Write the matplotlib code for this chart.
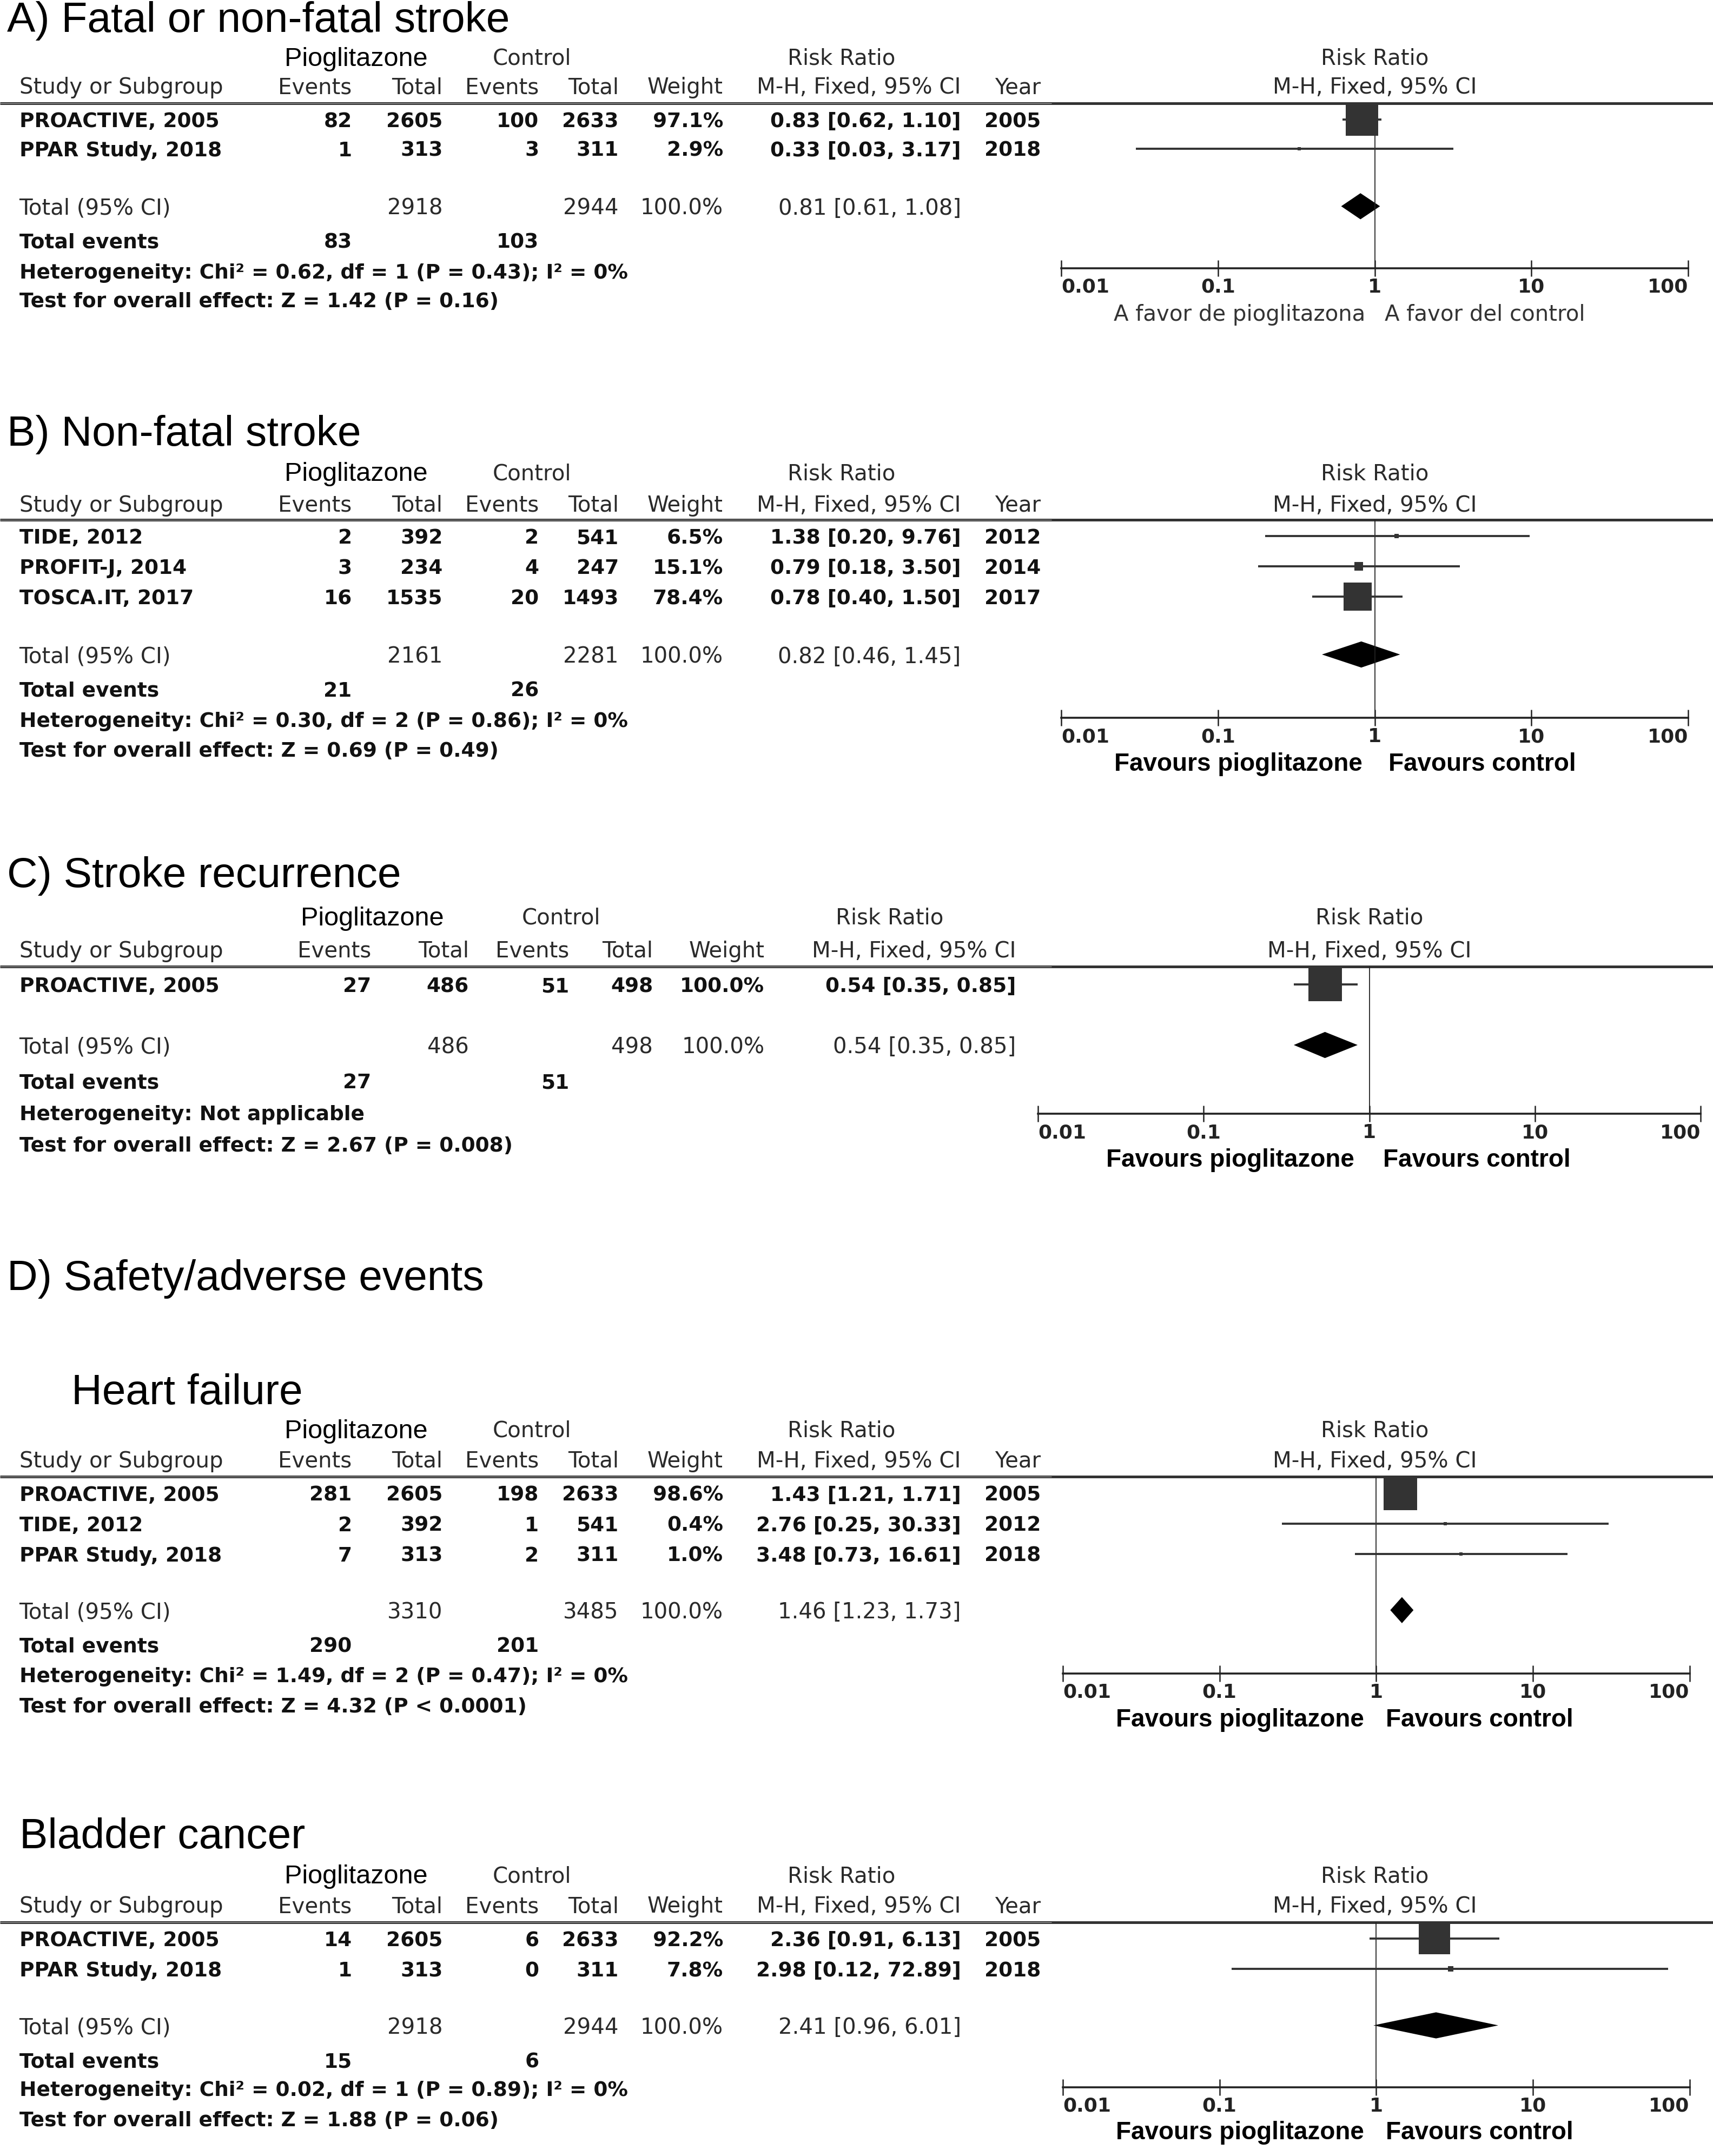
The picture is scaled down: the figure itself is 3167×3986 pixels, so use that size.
import matplotlib.pyplot as plt
from matplotlib.ticker import FixedLocator, NullLocator

# ---- values ----
# A) Fatal or non-fatal stroke
a_study = ["PROACTIVE, 2005", "PPAR Study, 2018"]
a_pio_ev = [82, 1]
a_pio_n = [2605, 313]
a_ctl_ev = [100, 3]
a_ctl_n = [2633, 311]
a_weight = [97.1, 2.9]
a_rr = [0.83, 0.33]
a_lo = [0.62, 0.03]
a_hi = [1.10, 3.17]
a_year = [2005, 2018]
a_tot_n = [2918, 2944]
a_tot_rr = [0.81, 0.61, 1.08]
a_tot_ev = [83, 103]
a_het = "Heterogeneity: Chi² = 0.62, df = 1 (P = 0.43); I² = 0%"
a_test = "Test for overall effect: Z = 1.42 (P = 0.16)"

# B) Non-fatal stroke
b_study = ["TIDE, 2012", "PROFIT-J, 2014", "TOSCA.IT, 2017"]
b_pio_ev = [2, 3, 16]
b_pio_n = [392, 234, 1535]
b_ctl_ev = [2, 4, 20]
b_ctl_n = [541, 247, 1493]
b_weight = [6.5, 15.1, 78.4]
b_rr = [1.38, 0.79, 0.78]
b_lo = [0.20, 0.18, 0.40]
b_hi = [9.76, 3.50, 1.50]
b_year = [2012, 2014, 2017]
b_tot_n = [2161, 2281]
b_tot_rr = [0.82, 0.46, 1.45]
b_tot_ev = [21, 26]
b_het = "Heterogeneity: Chi² = 0.30, df = 2 (P = 0.86); I² = 0%"
b_test = "Test for overall effect: Z = 0.69 (P = 0.49)"

# C) Stroke recurrence (no year column)
c_study = ["PROACTIVE, 2005"]
c_pio_ev = [27]
c_pio_n = [486]
c_ctl_ev = [51]
c_ctl_n = [498]
c_weight = [100.0]
c_rr = [0.54]
c_lo = [0.35]
c_hi = [0.85]
c_year = None
c_tot_n = [486, 498]
c_tot_rr = [0.54, 0.35, 0.85]
c_tot_ev = [27, 51]
c_het = "Heterogeneity: Not applicable"
c_test = "Test for overall effect: Z = 2.67 (P = 0.008)"

# D) Heart failure
hf_study = ["PROACTIVE, 2005", "TIDE, 2012", "PPAR Study, 2018"]
hf_pio_ev = [281, 2, 7]
hf_pio_n = [2605, 392, 313]
hf_ctl_ev = [198, 1, 2]
hf_ctl_n = [2633, 541, 311]
hf_weight = [98.6, 0.4, 1.0]
hf_rr = [1.43, 2.76, 3.48]
hf_lo = [1.21, 0.25, 0.73]
hf_hi = [1.71, 30.33, 16.61]
hf_year = [2005, 2012, 2018]
hf_tot_n = [3310, 3485]
hf_tot_rr = [1.46, 1.23, 1.73]
hf_tot_ev = [290, 201]
hf_het = "Heterogeneity: Chi² = 1.49, df = 2 (P = 0.47); I² = 0%"
hf_test = "Test for overall effect: Z = 4.32 (P < 0.0001)"

# D) Bladder cancer
bc_study = ["PROACTIVE, 2005", "PPAR Study, 2018"]
bc_pio_ev = [14, 1]
bc_pio_n = [2605, 313]
bc_ctl_ev = [6, 0]
bc_ctl_n = [2633, 311]
bc_weight = [92.2, 7.8]
bc_rr = [2.36, 2.98]
bc_lo = [0.91, 0.12]
bc_hi = [6.13, 72.89]
bc_year = [2005, 2018]
bc_tot_n = [2918, 2944]
bc_tot_rr = [2.41, 0.96, 6.01]
bc_tot_ev = [15, 6]
bc_het = "Heterogeneity: Chi² = 0.02, df = 1 (P = 0.89); I² = 0%"
bc_test = "Test for overall effect: Z = 1.88 (P = 0.06)"

fav_es = ["A favor de pioglitazona", "A favor del control"]
fav_en = ["Favours pioglitazone", "Favours control"]
ticks = [0.01, 0.1, 1, 10, 100]
tick_labels = ["0.01", "0.1", "1", "10", "100"]

# ---- layout, in units of a 1246 x 1568 grid ----
W, H = 1246, 1568
fig = plt.figure(figsize=(31.67, 39.86), dpi=100)
bg = fig.add_axes([0, 0, 1, 1])
bg.set_xlim(0, W)
bg.set_ylim(H, 0)
bg.axis("off")

HEAD = dict(family="DejaVu Sans", fontsize=29, color="#2a2a2a")
BOLD = dict(family="DejaVu Sans", fontsize=27, fontweight="bold", color="#111111")
TITLE = dict(family="Liberation Sans", fontsize=56.5, color="black")
FAV_ES = dict(family="DejaVu Sans", fontsize=29, color="#333333")
FAV_EN = dict(family="Liberation Sans", fontsize=33, fontweight="bold", color="black")

cols_year = [256, 322, 392, 450, 526, 699, 757]
cols_c = [270, 341, 414, 475, 556, 739]


def txt(x, y, s, ha="left", **kw):
    bg.text(x, y, str(s), ha=ha, va="center_baseline", **kw)


def draw_panel(lay, study, pio_ev, pio_n, ctl_ev, ctl_n, weight, rr, lo, hi,
               year, tot_n, tot_rr, tot_ev, het, test, fav, fav_style):
    cols = lay["cols"]
    # headers
    txt(lay["pio_c"], lay["h1"], "Pioglitazone", ha="center",
        family="Liberation Sans", fontsize=35, color="black")
    txt(lay["ctl_c"], lay["h1"], "Control", ha="center", **HEAD)
    txt(lay["rr_c"], lay["h1"], "Risk Ratio", ha="center", **HEAD)
    txt(lay["rr2_c"], lay["h1"], "Risk Ratio", ha="center", **HEAD)
    heads = ["Events", "Total", "Events", "Total", "Weight", "M-H, Fixed, 95% CI"]
    if year is not None:
        heads.append("Year")
    txt(14, lay["h2"], "Study or Subgroup", **HEAD)
    for c, h in zip(cols, heads):
        txt(c, lay["h2"], h, ha="right", **HEAD)
    txt(lay["rr2_c"], lay["h2"], "M-H, Fixed, 95% CI", ha="center", **HEAD)
    # double rule under the header
    ly = lay["line"]
    bg.plot([0, W], [ly, ly], color="#333333", lw=3.6, solid_capstyle="butt")
    bg.plot([0, 765], [ly, ly], color="#b5b5b5", lw=0.7, solid_capstyle="butt")

    # study rows
    for i, y in enumerate(lay["rows"]):
        vals = [pio_ev[i], pio_n[i], ctl_ev[i], ctl_n[i], f"{weight[i]:.1f}%",
                f"{rr[i]:.2f} [{lo[i]:.2f}, {hi[i]:.2f}]"]
        if year is not None:
            vals.append(year[i])
        txt(14, y, study[i], **BOLD)
        for c, v in zip(cols, vals):
            txt(c, y, v, ha="right", **BOLD)

    # totals
    t = lay["tot"]
    txt(14, t, "Total (95% CI)", **HEAD)
    txt(cols[1], t, tot_n[0], ha="right", **HEAD)
    txt(cols[3], t, tot_n[1], ha="right", **HEAD)
    txt(cols[4], t, "100.0%", ha="right", **HEAD)
    txt(cols[5], t, f"{tot_rr[0]:.2f} [{tot_rr[1]:.2f}, {tot_rr[2]:.2f}]", ha="right", **HEAD)
    txt(14, lay["tev"], "Total events", **BOLD)
    txt(cols[0], lay["tev"], tot_ev[0], ha="right", **BOLD)
    txt(cols[2], lay["tev"], tot_ev[1], ha="right", **BOLD)
    txt(14, lay["het"], het, **BOLD)
    txt(14, lay["test"], test, **BOLD)

    # forest plot on a log axis
    x0, x1, ya = lay["ax0"], lay["ax1"], lay["axis"]
    ax = fig.add_axes([x0 / W, 1 - ya / H, (x1 - x0) / W, (ya - ly) / H])
    ax.patch.set_alpha(0)
    ax.set_xscale("log")
    ax.set_xlim(ticks[0], ticks[-1])
    ax.set_ylim(ya, ly)
    for s in ["top", "left", "right"]:
        ax.spines[s].set_visible(False)
    ax.spines["bottom"].set_linewidth(2.6)
    ax.spines["bottom"].set_color("#222222")
    ax.set_yticks([])
    ax.xaxis.set_major_locator(FixedLocator(ticks))
    ax.xaxis.set_minor_locator(NullLocator())
    labs = ax.set_xticklabels(tick_labels, family="DejaVu Sans", fontweight="bold")
    labs[0].set_ha("left")
    labs[-1].set_ha("right")
    ax.tick_params(axis="x", direction="inout", length=22, width=1.8, pad=2,
                   labelsize=26, colors="#222222")
    ax.axvline(1, color="#222222", lw=1.3)

    for i, y in enumerate(lay["rows"]):
        ax.plot([lo[i], hi[i]], [y, y], color="#333333", lw=2.8, solid_capstyle="butt")
        side = max(62 * (weight[i] / 100) ** 0.75, 6)
        ax.plot([rr[i]], [y], marker="s", ms=side * 0.72, mew=0, color="#333333",
                ls="none", clip_on=False)
    ax.fill([tot_rr[1], tot_rr[0], tot_rr[2], tot_rr[0]],
            [t, t - 9.5, t, t + 9.5], color="black", lw=0)

    txt(lay["fav_l"], lay["fav"], fav[0], ha="right", **fav_style)
    txt(lay["fav_r"], lay["fav"], fav[1], ha="left", **fav_style)


lay_a = dict(h1=41, h2=62, line=75, rows=[87, 108], tot=150, tev=175, het=197, test=218,
             axis=195, fav=227, ax0=772, ax1=1228, cols=cols_year, pio_c=259, ctl_c=387,
             rr_c=612, rr2_c=1000, fav_l=993, fav_r=1007)
lay_b = dict(h1=343, h2=366, line=378, rows=[390, 412, 434], tot=476, tev=501, het=523,
             test=545, axis=522, fav=554, ax0=772, ax1=1228, cols=cols_year, pio_c=259,
             ctl_c=387, rr_c=612, rr2_c=1000, fav_l=991, fav_r=1010)
lay_c = dict(h1=666, h2=690, line=703, rows=[716], tot=760, tev=786, het=809, test=832,
             axis=810, fav=842, ax0=755, ax1=1237, cols=cols_c, pio_c=271, ctl_c=408,
             rr_c=647, rr2_c=996, fav_l=985, fav_r=1006)
lay_hf = dict(h1=1039, h2=1061, line=1074, rows=[1086, 1108, 1130], tot=1171, tev=1196,
              het=1218, test=1240, axis=1217, fav=1249, ax0=773, ax1=1229, cols=cols_year,
              pio_c=259, ctl_c=387, rr_c=612, rr2_c=1000, fav_l=992, fav_r=1008)
lay_bc = dict(h1=1363, h2=1385, line=1398, rows=[1410, 1432], tot=1473, tev=1498,
              het=1519, test=1541, axis=1518, fav=1549, ax0=773, ax1=1229, cols=cols_year,
              pio_c=259, ctl_c=387, rr_c=612, rr2_c=1000, fav_l=992, fav_r=1008)

# titles
txt(5, 12, "A) Fatal or non-fatal stroke", **TITLE)
txt(5, 313, "B) Non-fatal stroke", **TITLE)
txt(5, 634, "C) Stroke recurrence", **TITLE)
txt(5, 927, "D) Safety/adverse events", **TITLE)
txt(52, 1010, "Heart failure", **TITLE)
txt(14, 1333, "Bladder cancer", **TITLE)

draw_panel(lay_a, a_study, a_pio_ev, a_pio_n, a_ctl_ev, a_ctl_n, a_weight, a_rr, a_lo,
           a_hi, a_year, a_tot_n, a_tot_rr, a_tot_ev, a_het, a_test, fav_es, FAV_ES)
draw_panel(lay_b, b_study, b_pio_ev, b_pio_n, b_ctl_ev, b_ctl_n, b_weight, b_rr, b_lo,
           b_hi, b_year, b_tot_n, b_tot_rr, b_tot_ev, b_het, b_test, fav_en, FAV_EN)
draw_panel(lay_c, c_study, c_pio_ev, c_pio_n, c_ctl_ev, c_ctl_n, c_weight, c_rr, c_lo,
           c_hi, c_year, c_tot_n, c_tot_rr, c_tot_ev, c_het, c_test, fav_en, FAV_EN)
draw_panel(lay_hf, hf_study, hf_pio_ev, hf_pio_n, hf_ctl_ev, hf_ctl_n, hf_weight, hf_rr,
           hf_lo, hf_hi, hf_year, hf_tot_n, hf_tot_rr, hf_tot_ev, hf_het, hf_test,
           fav_en, FAV_EN)
draw_panel(lay_bc, bc_study, bc_pio_ev, bc_pio_n, bc_ctl_ev, bc_ctl_n, bc_weight, bc_rr,
           bc_lo, bc_hi, bc_year, bc_tot_n, bc_tot_rr, bc_tot_ev, bc_het, bc_test,
           fav_en, FAV_EN)

fig.savefig("out.png", dpi=100)
